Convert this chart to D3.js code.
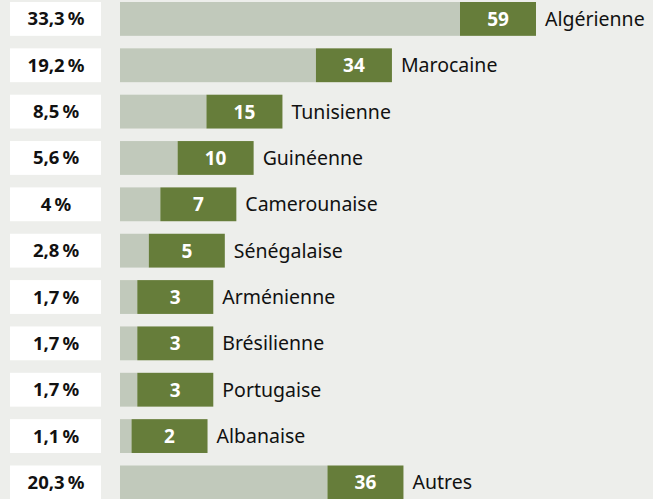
<!DOCTYPE html>
<html>
<head>
<meta charset="utf-8">
<script src="https://cdn.jsdelivr.net/npm/d3@7"></script>
<style>
  html, body { margin: 0; padding: 0; background: #edeeeb; }
  svg { display: block; }
</style>
</head>
<body>
<svg></svg>
<script>
// données
var nationalites = ['Algérienne', 'Marocaine', 'Tunisienne', 'Guinéenne', 'Camerounaise', 'Sénégalaise',
  'Arménienne', 'Brésilienne', 'Portugaise', 'Albanaise', 'Autres'];
var effectifs = [59, 34, 15, 10, 7, 5, 3, 3, 3, 2, 36];
var pourcents = ['33,3', '19,2', '8,5', '5,6', '4', '2,8', '1,7', '1,7', '1,7', '1,1', '20,3'];

var W = 653, H = 499;
var boxW = 76; // case verte du nombre

var svg = d3.select('svg').attr('width', W).attr('height', H);

var y = d3.scaleBand().domain(d3.range(nationalites.length)).range([2, 2 + 46.35 * 11])
  .paddingInner(0.27).paddingOuter(0.135).align(0);
var x = d3.scaleLinear().domain([0, 59]).range([120, 460]);

var rows = svg.selectAll('g.row').data(nationalites).enter().append('g')
  .attr('class', 'row')
  .attr('transform', function(d, i) { return 'translate(0,' + y(i) + ')'; });

var bh = y.bandwidth();

// case pourcentage
rows.append('rect').attr('x', 10).attr('y', 0).attr('width', 91).attr('height', bh).attr('fill', '#ffffff');
rows.append('text')
  .attr('x', 56).attr('y', bh / 2 + 6.5)
  .attr('text-anchor', 'middle')
  .attr('font-family', 'Noto Sans, sans-serif').attr('font-weight', 'bold').attr('font-size', 18.5)
  .attr('fill', '#111')
  .text(function(d, i) { return pourcents[i] + '\u2009%'; });

// barre claire
rows.append('rect')
  .attr('x', x(0)).attr('y', 0)
  .attr('width', function(d, i) { return x(effectifs[i]) - x(0); })
  .attr('height', bh).attr('fill', '#c1c9bb');

// case verte
rows.append('rect')
  .attr('x', function(d, i) { return x(effectifs[i]); }).attr('y', 0)
  .attr('width', boxW).attr('height', bh).attr('fill', '#667d3a');
rows.append('text')
  .attr('x', function(d, i) { return x(effectifs[i]) + boxW / 2; }).attr('y', bh / 2 + 7)
  .attr('text-anchor', 'middle')
  .attr('font-family', 'Noto Sans, sans-serif').attr('font-weight', 'bold').attr('font-size', 19)
  .attr('fill', '#ffffff')
  .text(function(d, i) { return effectifs[i]; });

// libellé
rows.append('text')
  .attr('x', function(d, i) { return x(effectifs[i]) + boxW + 9; }).attr('y', bh / 2 + 7)
  .attr('font-family', 'Noto Sans, sans-serif').attr('font-size', 19.5)
  .attr('fill', '#111')
  .text(function(d) { return d; });
</script>
</body>
</html>
